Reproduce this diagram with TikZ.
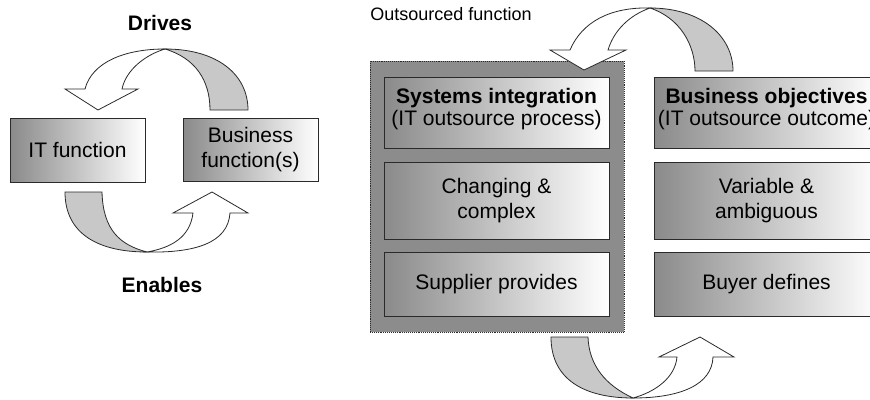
\documentclass[tikz,border=0pt]{standalone}
\usepackage{fontspec}
\setmainfont{Liberation Sans}
\usepackage{tikz}
\usetikzlibrary{calc}

\definecolor{inkline}{HTML}{2A2A2A}
\definecolor{shadedark}{HTML}{8A8A8A}
\definecolor{outerfill}{HTML}{8C8C8C}
\definecolor{ribbongray}{HTML}{C8C8C8}

\begin{document}
\begin{tikzpicture}[x=1pt, y=-1pt,
    box/.style={draw=inkline, line width=0.9pt, left color=shadedark, right color=white,
        inner sep=0pt, align=center, font=\fontsize{21}{25}\selectfont},
    ribbonback/.style={draw=inkline, line width=0.8pt, fill=ribbongray},
    ribbonfront/.style={draw=inkline, line width=0.8pt, fill=white},
    cyclelbl/.style={font=\fontsize{21}{25}\selectfont\bfseries}]

\clip (0,0) rectangle (870,399);

%% left cycle
\node[box, minimum width=135pt, minimum height=64pt] (itfun) at (77.5,150) {IT function};
\node[box, minimum width=135pt, minimum height=63pt] (busfun) at (250.5,150) {Business\\function(s)};
\node[cyclelbl] (drives) at (160,23) {Drives};
\node[cyclelbl] (enables) at (162,285) {Enables};

%% outsourced side
\node[draw=inkline, densely dotted, line width=0.9pt, fill=outerfill,
      minimum width=254pt, minimum height=271pt] (outsrc) at (497,196.5) {};
\node[font=\fontsize{18}{20}\selectfont] (outsrclbl) at (451,14) {Outsourced function};

\node[box, minimum width=225pt, minimum height=71pt] (sysint) at (496.5,112.5)
    {\textbf{Systems integration}\\[-3pt](IT outsource process)\\[-14pt]};
\node[box, minimum width=225pt, minimum height=77pt] (changing) at (496.5,200.5) {Changing \&\\complex};
\node[box, minimum width=225pt, minimum height=64pt] (supplier) at (496.5,284) {Supplier provides};

\node[box, minimum width=225pt, minimum height=71pt] (busobj) at (766.5,112.5)
    {\textbf{Business objectives}\\[-3pt](IT outsource outcome)\\[-14pt]};
\node[box, minimum width=225pt, minimum height=77pt] (variable) at (766.5,200.5) {Variable \&\\ambiguous};
\node[box, minimum width=225pt, minimum height=64pt] (buyer) at (766.5,284) {Buyer defines};

%% twist points of the ribbons
\coordinate (drivestw) at (165,49);
\coordinate (enablestw) at (147,252);
\coordinate (toptw) at (650,8);
\coordinate (bottw) at (633,398);

%% Drives
\draw[ribbonback] (drivestw) .. controls (218,49) and (248,75) .. (248,110) -- (210,110)
    .. controls (210,80) and (195,58) .. (drivestw) -- cycle;
\draw[ribbonfront] (drivestw) .. controls (125,49) and (92,62) .. (85,89) -- (65,89) -- (98,110)
    -- (138,89) -- (122,89) .. controls (126,70) and (145,55) .. (drivestw) -- cycle;

%% Enables
\draw[ribbonback] (65,192) -- (102,192) .. controls (103,230) and (120,245) .. (enablestw)
    .. controls (100,252) and (65,235) .. (65,192) -- cycle;
\draw[ribbonfront] (enablestw) .. controls (195,253) and (228,243) .. (230,213) -- (248,213)
    -- (212,192) -- (173,213) -- (193,213) .. controls (190,238) and (170,248) .. (enablestw) -- cycle;

%% top right
\draw[ribbonback] (toptw) .. controls (700,8) and (733,35) .. (733,71) -- (695,71)
    .. controls (695,45) and (680,18) .. (toptw) -- cycle;
\draw[ribbonfront] (toptw) .. controls (610,7) and (582,22) .. (570,50) -- (550,50) -- (584,70)
    -- (626,50) -- (608,50) .. controls (614,30) and (630,15) .. (toptw) -- cycle;

%% bottom right
\draw[ribbonback] (551,337) -- (588,337) .. controls (589,365) and (605,385) .. (bottw)
    .. controls (585,398) and (551,380) .. (551,337) -- cycle;
\draw[ribbonfront] (bottw) .. controls (680,398) and (712,385) .. (713,357) -- (734,357)
    -- (700,337) -- (659,357) -- (677,357) .. controls (675,378) and (655,392) .. (bottw) -- cycle;

\end{tikzpicture}
\end{document}
